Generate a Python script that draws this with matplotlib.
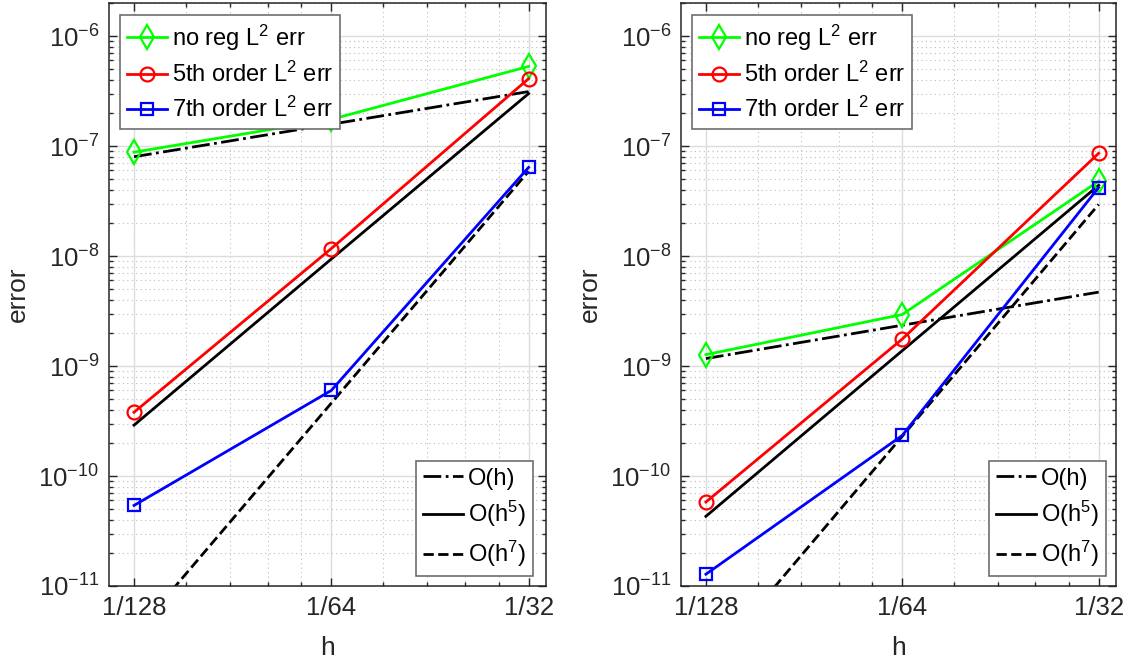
import matplotlib
matplotlib.use("Agg")
import matplotlib.pyplot as plt
from matplotlib.ticker import FixedLocator, LogLocator, NullFormatter

plt.rcParams['font.family'] = ['Liberation Sans', 'DejaVu Sans']
plt.rcParams['mathtext.fontset'] = 'custom'
plt.rcParams['mathtext.rm'] = 'Liberation Sans'
plt.rcParams['mathtext.it'] = 'Liberation Sans:italic'
plt.rcParams['mathtext.default'] = 'regular'

# grid sizes and tick labels
h = [1/128, 1/64, 1/32]
h_labels = ['1/128', '1/64', '1/32']

# left panel
noreg_a = [8.8e-8, 1.75e-7, 5.3e-7]
ord5_a = [3.8e-10, 1.17e-8, 4.1e-7]
ord7_a = [5.4e-11, 6.0e-10, 6.4e-8]
ref1_a = [8.0e-8, 1.58e-7, 3.13e-7]
ref5_a = [2.9e-10, 9.4e-9, 3.0e-7]
ref7_a = [3.6e-12, 4.6e-10, 5.9e-8]

# right panel
noreg_b = [1.27e-9, 2.94e-9, 4.8e-8]
ord5_b = [5.8e-11, 1.76e-9, 8.6e-8]
ord7_b = [1.28e-11, 2.34e-10, 4.2e-8]
ref1_b = [1.17e-9, 2.35e-9, 4.7e-9]
ref5_b = [4.3e-11, 1.38e-9, 4.4e-8]
ref7_b = [1.8e-12, 2.3e-10, 2.95e-8]

err_labels = [r'no reg $\mathregular{L^2}$ err',
              r'5th order $\mathregular{L^2}$ err',
              r'7th order $\mathregular{L^2}$ err']
ref_labels = ['O(h)', r'O($\mathregular{h^5}$)', r'O($\mathregular{h^7}$)']

dark = '#262626'


def panel(ax, noreg, o5, o7, r1, r5, r7, leg2_x):
    k1, = ax.plot(h, r1, color='k', ls='-.', lw=2)
    k5, = ax.plot(h, r5, color='k', ls='-', lw=2)
    k7, = ax.plot(h, r7, color='k', ls='--', lw=2)
    l1, = ax.plot(h, noreg, color=(0, 1, 0), lw=2, marker='d', ms=12, mfc='none', mew=1.6)
    l2, = ax.plot(h, o5, color=(1, 0, 0), lw=2, marker='o', ms=10, mfc='none', mew=1.6)
    l3, = ax.plot(h, o7, color=(0, 0, 1), lw=2, marker='s', ms=8.5, mfc='none', mew=1.6)

    ax.set_xscale('log')
    ax.set_yscale('log')
    ax.set_xlim(2 ** -7.127, 2 ** -4.912)
    ax.set_ylim(1e-11, 2e-6)

    ax.xaxis.set_major_locator(FixedLocator(h))
    ax.set_xticklabels(h_labels)
    ax.xaxis.set_minor_locator(FixedLocator([m * k for m in h[:2] for k in (1.2, 1.4, 1.6, 1.8)]))
    ax.xaxis.set_minor_formatter(NullFormatter())
    ax.yaxis.set_major_locator(LogLocator(base=10, numticks=20))
    ax.yaxis.set_minor_locator(LogLocator(base=10, subs=range(2, 10), numticks=20))
    ax.yaxis.set_minor_formatter(NullFormatter())

    ax.grid(True, which='major', color='#dcdcdc', lw=1, ls='-')
    ax.grid(True, which='minor', color='#bdbdbd', lw=0.8, ls=(0, (1, 3)))
    ax.set_axisbelow(True)

    ax.tick_params(which='both', direction='in', top=True, right=True, color=dark,
                   labelcolor=dark, labelsize=18.5, width=1)
    ax.tick_params(which='major', length=6, pad=7)
    ax.tick_params(which='minor', length=3)
    for s in ax.spines.values():
        s.set_color(dark)
        s.set_linewidth(1.1)

    ax.set_xlabel('h', fontsize=19, color=dark, labelpad=12)
    ax.set_ylabel('error', fontsize=19, color=dark, labelpad=6)

    leg1 = ax.legend([l1, l2, l3], err_labels, loc='upper left', bbox_to_anchor=(0.025, 0.979),
                     borderaxespad=0, fontsize=17, fancybox=False, edgecolor='#6e6e6e',
                     framealpha=1, handlelength=1.7, handletextpad=0.2, borderpad=0.3,
                     labelspacing=0.4)
    leg1.get_frame().set_linewidth(1.2)
    ax.add_artist(leg1)
    leg2 = ax.legend([k1, k5, k7], ref_labels, loc='lower right', bbox_to_anchor=(leg2_x, 0.017),
                     borderaxespad=0, fontsize=17, fancybox=False, edgecolor='#6e6e6e',
                     framealpha=1, handlelength=1.7, handletextpad=0.2, borderpad=0.3,
                     labelspacing=0.4)
    leg2.get_frame().set_linewidth(1.2)


fig = plt.figure(figsize=(11.28, 6.65), dpi=100)
ax1 = fig.add_axes([0.0966, 0.1188, 0.3874, 0.8767])
ax2 = fig.add_axes([0.6037, 0.1188, 0.3856, 0.8767])

panel(ax1, noreg_a, ord5_a, ord7_a, ref1_a, ref5_a, ref7_a, 0.970)
panel(ax2, noreg_b, ord5_b, ord7_b, ref1_b, ref5_b, ref7_b, 0.977)

fig.savefig('out.png', dpi=100)
